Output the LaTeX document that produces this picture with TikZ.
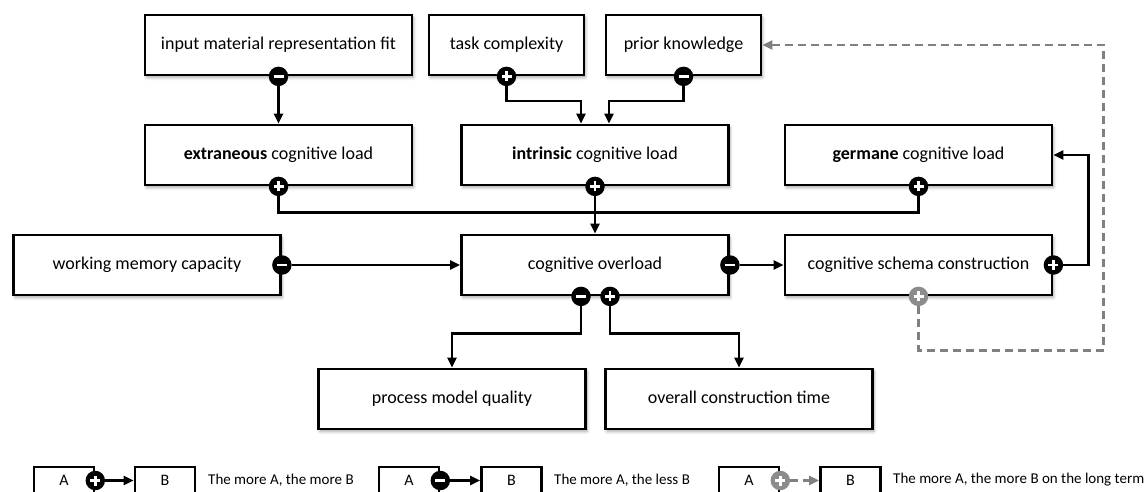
\documentclass[tikz,border=0pt]{standalone}
\usepackage{fontspec}
\setmainfont{Carlito}
\usetikzlibrary{arrows.meta,shadows.blur}
\definecolor{dgray}{RGB}{128,128,128}
\definecolor{bgray}{RGB}{140,140,140}
\tikzset{
  box/.style={draw, line width=2.8pt, fill=white, minimum width=267pt, minimum height=60pt,
    inner sep=0pt, text height=12.5pt, text depth=3.5pt, font=\fontsize{18}{22}\selectfont,
    blur shadow={shadow xshift=1.5pt, shadow yshift=-2.5pt, shadow blur radius=3pt, shadow blur steps=6, shadow opacity=35}},
  sbox/.style={box, minimum width=155pt},
  lbox/.style={draw, line width=2.6pt, fill=white, minimum width=60pt, minimum height=27pt,
    inner sep=0pt, font=\fontsize{16}{19}\selectfont},
  conn/.style={line width=2.3pt},
  arr/.style={conn, -{Triangle[length=10pt,width=9pt]}},
  garr/.style={line width=2.3pt, draw=dgray, dash pattern=on 8pt off 5pt, -{Triangle[length=10pt,width=9pt,fill=dgray]}},
  badge/.style={circle, fill=black, minimum size=19.5pt, inner sep=0pt},
  plusb/.style={badge, path picture={\draw[white,line width=2.8pt]
      ([xshift=-5pt]path picture bounding box.center) -- ([xshift=5pt]path picture bounding box.center)
      ([yshift=-5pt]path picture bounding box.center) -- ([yshift=5pt]path picture bounding box.center);}},
  minusb/.style={badge, path picture={\draw[white,line width=2.8pt]
      ([xshift=-5pt]path picture bounding box.center) -- ([xshift=5pt]path picture bounding box.center);}},
  gplusb/.style={plusb, fill=bgray},
  ltext/.style={anchor=west, inner sep=0pt, font=\fontsize{15}{18}\selectfont},
}
\begin{document}
\begin{tikzpicture}[x=1pt,y=-1pt]
\useasboundingbox (0,0) rectangle (1148,492);
% boxes
\node[box]  (input) at (278.5,45) {input material representation fit};
\node[sbox] (task)  at (506.5,45) {task complexity};
\node[sbox] (prior) at (683.5,45) {prior knowledge};
\node[box]  (extr)  at (278.5,155) {\textbf{extraneous} cognitive load};
\node[box]  (intr)  at (595,155) {\textbf{intrinsic} cognitive load};
\node[box]  (ger)   at (918.5,155) {\textbf{germane} cognitive load};
\node[box]  (wm)    at (147,265) {working memory capacity};
\node[box]  (ovl)   at (595,265) {cognitive overload};
\node[box]  (sch)   at (918.5,265) {cognitive schema construction};
\node[box]  (proc)  at (452,399) {process model quality};
\node[box]  (ovt)   at (739,399) {overall construction time};
% badges
\node[minusb] (b1)  at (input.south) {};
\node[plusb]  (b2)  at (task.south) {};
\node[minusb] (b3)  at (prior.south) {};
\node[plusb]  (b4)  at (extr.south) {};
\node[plusb]  (b5)  at (intr.south) {};
\node[plusb]  (b6)  at (ger.south) {};
\node[minusb] (b7)  at (wm.east) {};
\node[minusb] (b8)  at (ovl.east) {};
\node[plusb]  (b9)  at (sch.east) {};
\node[gplusb] (b10) at (sch.south) {};
\node[minusb] (b11) at ([xshift=-14pt]ovl.south) {};
\node[plusb]  (b12) at ([xshift=15pt]ovl.south) {};
% connectors
\draw[arr] (b1.south) -- (b1.south |- extr.north);
\draw[arr] (b2.south) |- ++(74.5,15) -- ([xshift=-14pt]intr.north);
\draw[arr] (b3.south) |- ++(-74.5,15) -- ([xshift=14pt]intr.north);
\draw[conn] (b4.south) -- ++(0,16) -| (b6.south);
\draw[arr] (b5.south) -- (b5.south |- ovl.north);
\draw[arr] (b7.east) -- (b7.east -| ovl.west);
\draw[arr] (b8.east) -- (b8.east -| sch.west);
\draw[arr] (b9.east) -- ++(25,0) |- (ger.east);
\draw[garr] (b10.south) -- ++(0,44) -- ++(185,0) |- (prior.east);
\draw[arr] (b11.south) -- ++(0,27) -| (proc.north);
\draw[arr] (b12.south) -- ++(0,27) -| (ovt.north);
% legend
\node[lbox] (la1) at (64,480.5) {A};
\node[lbox] (lc1) at (165,480.5) {B};
\node[plusb]  (lb1) at (la1.east) {};
\draw[arr] (lb1.east) -- (lc1.west);
\node[ltext] (lt1) at (208,480) {The more A, the more B};
\node[lbox] (la2) at (409,480.5) {A};
\node[lbox] (lc2) at (511.5,480.5) {B};
\node[minusb] (lb2) at (la2.east) {};
\draw[arr] (lb2.east) -- (lc2.west);
\node[ltext] (lt2) at (554,480) {The more A, the less B};
\node[lbox] (la3) at (749,480.5) {A};
\node[lbox] (lc3) at (850.5,480.5) {B};
\node[gplusb] (lb3) at (la3.east) {};
\draw[garr] (lb3.east) -- (lc3.west);
\node[ltext] (lt3) at (893,480) {The more A, the more B on the long term};
\end{tikzpicture}
\end{document}
